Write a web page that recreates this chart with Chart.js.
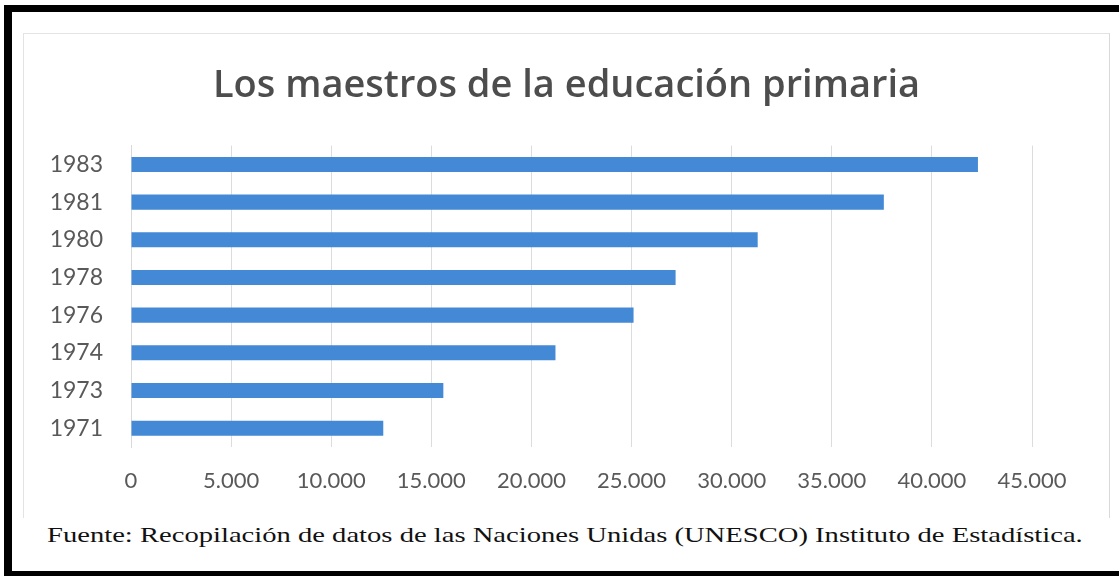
<!DOCTYPE html>
<html>
<head>
<meta charset="utf-8">
<script src="https://cdn.jsdelivr.net/npm/chart.js@4/dist/chart.umd.min.js"></script>
<style>
  html, body { margin: 0; padding: 0; background: #ffffff; width: 1119px; height: 576px; overflow: hidden; }
  #frame { position: absolute; left: 4px; top: 5px; width: 1130px; height: 559px;
           border-top: 7px solid #000; border-left: 8px solid #000; border-bottom: 5px solid #000; }
  #box { position: absolute; left: 23px; top: 33px; width: 1085px; height: 484px;
         border-top: 1px solid #e3e3e3; border-left: 1px solid #e3e3e3; border-right: 1px solid #d9d9d9; }
  #footer { position: absolute; left: 47px; top: 522px; font-family: "Liberation Serif", serif;
            font-size: 22px; color: #111; white-space: nowrap;
            transform-origin: 0 50%; transform: scaleX(1.30); }
</style>
</head>
<body>
<div id="frame"></div>
<div id="box"><canvas id="c" width="1085" height="484"></canvas></div>
<div id="footer">Fuente: Recopilación de datos de las Naciones Unidas (UNESCO) Instituto de Estadística.</div>
<script>
const titleText = 'Los maestros de la educación primaria';
const years = ['1983', '1981', '1980', '1978', '1976', '1974', '1973', '1971'];
const teachers = [42300, 37600, 31300, 27200, 25100, 21200, 15600, 12600];
const xTicks = [0, 5000, 10000, 15000, 20000, 25000, 30000, 35000, 40000, 45000];

function fmt(v) { return String(v).replace(/\B(?=(\d{3})+(?!\d))/g, '.'); }

new Chart(document.getElementById('c'), {
  type: 'bar',
  data: {
    labels: years,
    datasets: [{
      data: teachers,
      backgroundColor: '#4389d6',
      borderWidth: 0,
      categoryPercentage: 0.8,
      barPercentage: 0.5
    }]
  },
  options: {
    indexAxis: 'y',
    responsive: false,
    animation: false,
    events: [],
    layout: { padding: 0 },
    plugins: {
      legend: { display: false },
      tooltip: { enabled: false },
      title: {
        display: true,
        text: titleText,
        color: '#4d4d4d',
        font: { family: 'Open Sans', size: 38, weight: '600' },
        padding: { top: 29, bottom: 37 }
      }
    },
    scales: {
      x: {
        min: 0, max: 45000,
        afterBuildTicks: s => { s.ticks = xTicks.map(v => ({ value: v })); },
        afterFit: s => { s.height = 71; },
        grid: { color: '#dcdcdc', drawTicks: false },
        border: { display: false },
        ticks: {
          padding: 21,
          color: '#595959',
          font: { family: 'Lato', size: 22 },
          callback: v => fmt(v)
        }
      },
      y: {
        afterFit: s => { s.width = 107; },
        grid: { display: false, drawTicks: false },
        border: { display: true, color: '#d9d9d9' },
        ticks: {
          padding: 28,
          color: '#595959',
          font: { family: 'Lato', size: 23 }
        }
      },
      yRight: {
        axis: 'y',
        position: 'right',
        afterFit: s => { s.width = 77; },
        grid: { display: false, drawTicks: false },
        border: { display: false },
        ticks: { display: false }
      }
    }
  }
});
</script>
</body>
</html>
